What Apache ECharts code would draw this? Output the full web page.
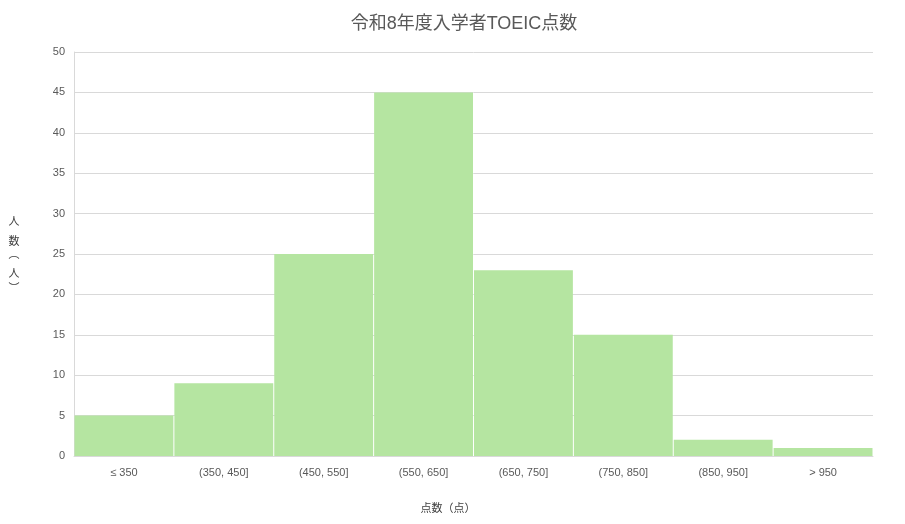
<!DOCTYPE html>
<html><head><meta charset="utf-8">
<script src="https://cdn.jsdelivr.net/npm/echarts@6/dist/echarts.min.js"></script>
<style>html,body{margin:0;padding:0;background:#fff}#c{width:905px;height:524px}</style>
</head><body><div id="c"></div>
<script>
const categories = ['≤ 350', '(350, 450]', '(450, 550]', '(550, 650]', '(650, 750]', '(750, 850]', '(850, 950]', '> 950'];
const counts = [5, 9, 25, 45, 23, 15, 2, 1];
const titleText = '令和8年度入学者TOEIC点数';
const xName = '点数（点）';
const yNameChars = ['人', '数', '︵', '人', '︶'];
const chart = echarts.init(document.getElementById('c'));
const ff = '"Liberation Sans", Arial, "Noto Sans CJK JP", sans-serif';
const yPos = [222, 242, 255, 274, 289];
chart.setOption({
  animation: false,
  textStyle: {fontFamily: ff},
  title: {text: titleText, left: 459, textAlign: 'center', top: 10, textStyle: {fontSize: 18, fontWeight: 'normal', color: '#595959', fontFamily: ff}},
  grid: {left: 74, right: 32, top: 52, bottom: 68},
  graphic: yNameChars.map((ch, i) => ({
    type: 'text', x: 14, y: yPos[i],
    style: {text: ch, fontSize: 11, fill: '#404040', align: 'center', verticalAlign: 'middle', fontFamily: ff}
  })),
  xAxis: {
    type: 'category', data: categories,
    name: xName, nameLocation: 'middle', nameGap: 47,
    nameTextStyle: {fontSize: 11, color: '#404040', padding: [0, 51, 0, 0]},
    axisLine: {lineStyle: {color: '#d9d9d9'}},
    axisTick: {show: false},
    axisLabel: {fontSize: 11, color: '#595959', margin: 11}
  },
  yAxis: {
    type: 'value', min: 0, max: 50, interval: 5,
    axisLine: {show: true, lineStyle: {color: '#d9d9d9'}},
    axisTick: {show: false},
    axisLabel: {fontSize: 11, color: '#595959', margin: 9},
    splitLine: {lineStyle: {color: '#d9d9d9'}}
  },
  series: [{
    type: 'bar', data: counts, barCategoryGap: '1%',
    itemStyle: {color: '#b5e5a1'}
  }]
});
</script></body></html>
